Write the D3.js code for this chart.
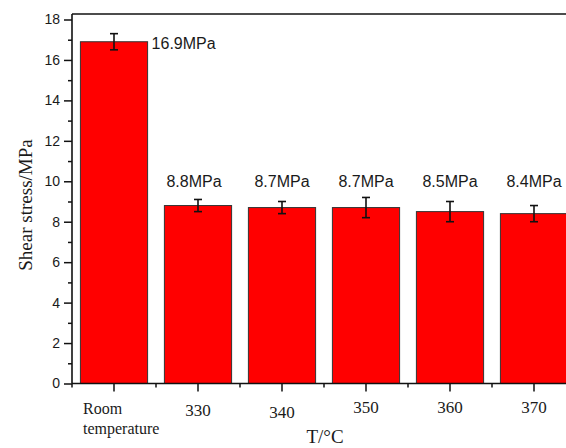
<!DOCTYPE html>
<html><head><meta charset="utf-8">
<script src="https://cdn.jsdelivr.net/npm/d3@7"></script>
<style>html,body{margin:0;padding:0;background:#fff;overflow:hidden}</style>
</head><body>
<svg id="chart" width="566" height="448"></svg>
<script>
const categories = ["Room temperature", "330", "340", "350", "360", "370"];
const values = [16.9, 8.8, 8.7, 8.7, 8.5, 8.4];
const errors = [0.4, 0.3, 0.3, 0.5, 0.5, 0.4];
const valueLabels = ["16.9MPa", "8.8MPa", "8.7MPa", "8.7MPa", "8.5MPa", "8.4MPa"];
const yTicks = [0, 2, 4, 6, 8, 10, 12, 14, 16, 18];
const yMinorTicks = [1, 3, 5, 7, 9, 11, 13, 15, 17];

(function () {
const svg = d3.select("#chart");
svg.append("rect").attr("width", 566).attr("height", 448).attr("fill", "#fff");

const mLeft = 72, mRight = 576, mTop = 14;
const x = d3.scaleBand().domain(categories).range([mLeft, mRight]).paddingInner(0.2).paddingOuter(0.1);
const y = d3.scaleLinear().domain([0, 18]).range([383.5, 19.5]);

// bars
svg.append("g").selectAll("rect").data(categories).join("rect")
  .attr("x", d => x(d)).attr("width", x.bandwidth())
  .attr("y", (d, i) => y(values[i])).attr("height", (d, i) => y(0) - y(values[i]))
  .attr("fill", "#ff0000").attr("stroke", "#333").attr("stroke-width", 1);

// error bars
const eg = svg.append("g").attr("stroke", "#111").attr("stroke-width", 1.6);
categories.forEach((c, i) => {
  const cx = x(c) + x.bandwidth() / 2;
  const y1 = y(values[i] + errors[i]), y2 = y(values[i] - errors[i]);
  eg.append("line").attr("x1", cx).attr("x2", cx).attr("y1", y1).attr("y2", y2);
  eg.append("line").attr("x1", cx - 4).attr("x2", cx + 4).attr("y1", y1).attr("y2", y1);
  eg.append("line").attr("x1", cx - 4).attr("x2", cx + 4).attr("y1", y2).attr("y2", y2);
});

// value labels
const lg = svg.append("g").attr("font-family", "Arial, 'Liberation Sans', sans-serif").attr("font-size", 16).attr("fill", "#1a1a1a");
categories.forEach((c, i) => {
  if (i === 0) {
    lg.append("text").attr("x", x(c) + x.bandwidth() + 4).attr("y", y(values[i]) + 7)
      .attr("text-anchor", "start").text(valueLabels[i]);
  } else {
    lg.append("text").attr("x", x(c) + x.bandwidth() / 2 - (i === 1 ? 4 : 0)).attr("y", y(10) + 6)
      .attr("text-anchor", "middle").text(valueLabels[i]);
  }
});

// frame top line
svg.append("line").attr("x1", mLeft).attr("x2", 566).attr("y1", mTop).attr("y2", mTop)
  .attr("stroke", "#111").attr("stroke-width", 1.5);

// y axis
const yAxis = svg.append("g").attr("transform", `translate(${mLeft},0)`)
  .call(d3.axisLeft(y).tickValues(yTicks).tickSize(8).tickPadding(4).tickFormat(d3.format("d")));
yAxis.select(".domain").attr("d", `M0,${y(0)}V${mTop}`).attr("stroke", "#111").attr("stroke-width", 1.6);
yAxis.selectAll(".tick line").attr("stroke", "#111").attr("stroke-width", 1.5);
yAxis.selectAll(".tick text").attr("font-family", "Arial, 'Liberation Sans', sans-serif").attr("font-size", 14).attr("fill", "#1a1a1a");
svg.append("g").attr("transform", `translate(${mLeft},0)`)
  .call(d3.axisLeft(y).tickValues(yMinorTicks).tickSize(4).tickFormat(""))
  .call(g => g.select(".domain").remove())
  .selectAll("line").attr("stroke", "#111").attr("stroke-width", 1.5);

// x axis
const xAxis = svg.append("g").attr("transform", `translate(0,${y(0)})`)
  .call(d3.axisBottom(x).tickSize(8).tickFormat(""));
xAxis.select(".domain").attr("d", `M${mLeft},0H566`).attr("stroke", "#111").attr("stroke-width", 1.6);
xAxis.selectAll(".tick line").attr("stroke", "#111").attr("stroke-width", 1.5);
const minorX = categories.map(c => x(c) - x.step() * 0.1);
svg.append("g").selectAll("line").data(minorX).join("line")
  .attr("x1", d => d).attr("x2", d => d).attr("y1", y(0)).attr("y2", y(0) + 4)
  .attr("stroke", "#111").attr("stroke-width", 1.5);

// x tick labels
const tg = svg.append("g").attr("font-family", "'Times New Roman', 'Liberation Serif', serif").attr("fill", "#1a1a1a");
const xLabelDy = [0, 0, 2, -3, -3, -3];
categories.forEach((c, i) => {
  const cx = x(c) + x.bandwidth() / 2;
  if (i === 0) {
    const t = tg.append("text").attr("font-size", 16).attr("x", cx - 31).attr("y", 414);
    t.append("tspan").attr("x", cx - 31).text("Room");
    t.append("tspan").attr("x", cx - 31).attr("dy", 20).text("temperature");
  } else {
    tg.append("text").attr("font-size", 17).attr("x", cx).attr("y", 416 + xLabelDy[i]).attr("text-anchor", "middle").text(c);
  }
});

// axis titles
svg.append("text").attr("x", 325).attr("y", 443).attr("text-anchor", "middle")
  .attr("font-family", "'Times New Roman', 'Liberation Serif', serif").attr("font-size", 19).attr("fill", "#1a1a1a")
  .text("T/°C");
svg.append("text").attr("transform", "translate(32,205) rotate(-90)").attr("text-anchor", "middle")
  .attr("font-family", "'Times New Roman', 'Liberation Serif', serif").attr("font-size", 19).attr("fill", "#1a1a1a")
  .text("Shear stress/MPa");
})();
</script>
</body></html>
